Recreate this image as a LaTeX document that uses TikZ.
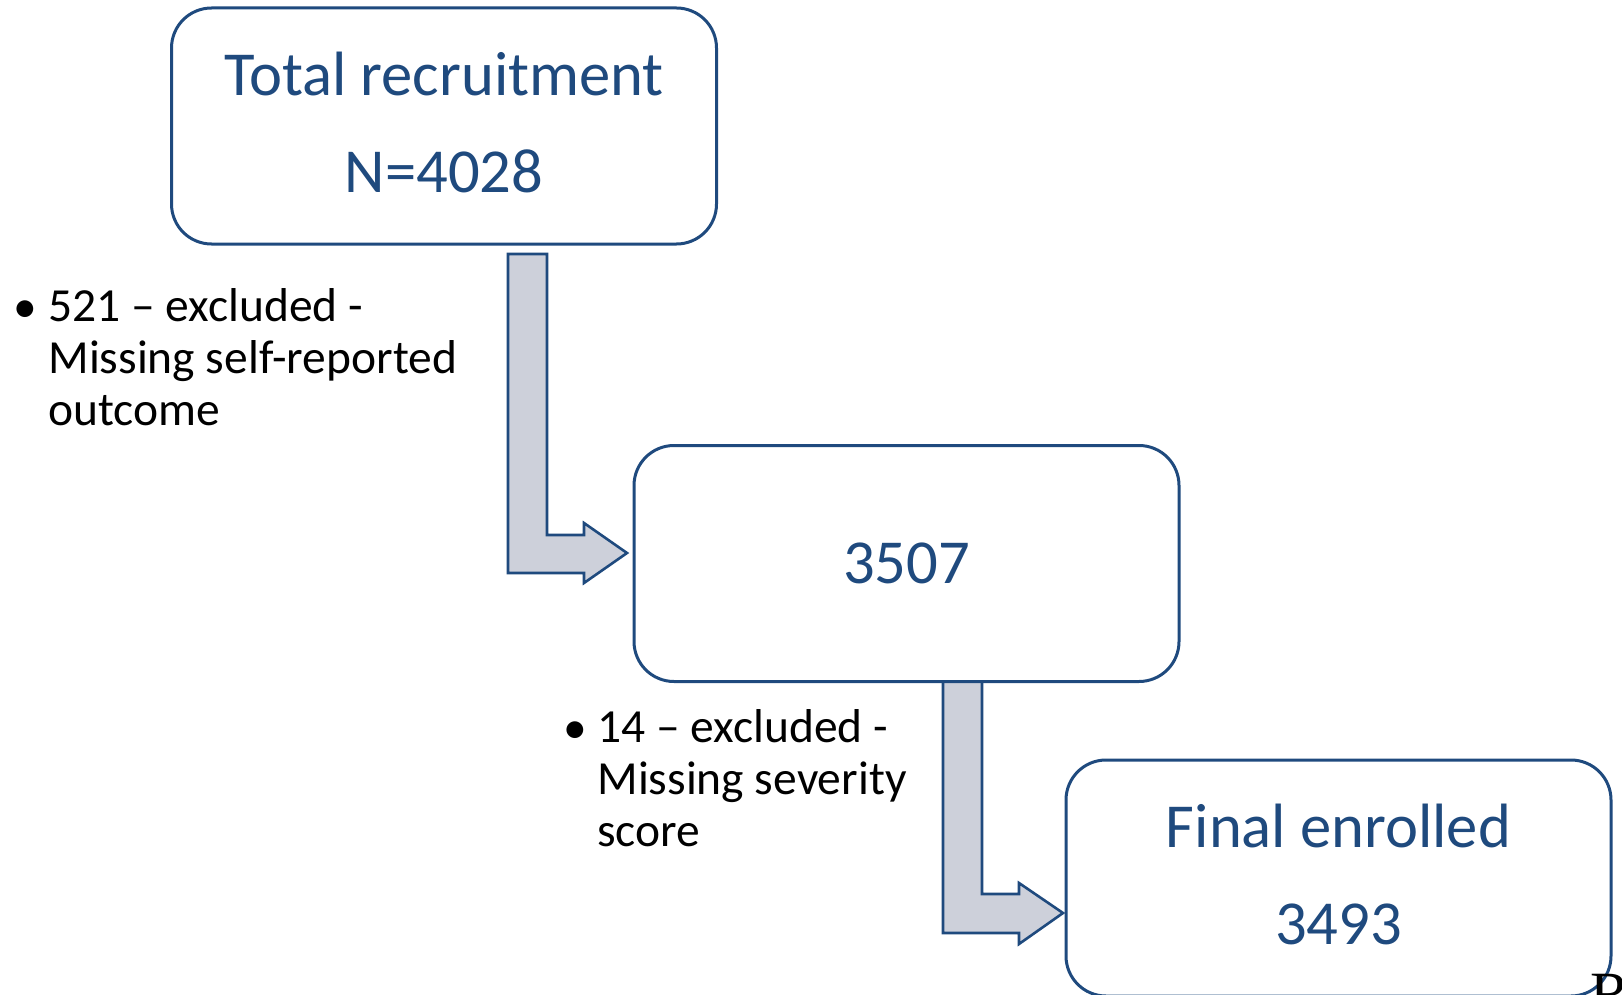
\documentclass[tikz,border=0pt]{standalone}
\usepackage{fontspec}
\setmainfont{Carlito}
\newfontfamily\seriffrag{Liberation Serif}
\usetikzlibrary{positioning}
\definecolor{boxblue}{HTML}{1F4A7E}
\definecolor{arrowgrey}{HTML}{CDD0DA}

\tikzset{
  stagebox/.style={draw=boxblue, line width=1.5pt, rounded corners=20pt, fill=white,
    minimum width=272.5pt, minimum height=118pt, align=center, text=boxblue,
    font=\fontsize{31.3}{48.5}\selectfont},
  twoline/.style={text depth=3.5pt},
  bentarrow/.style={draw=boxblue, line width=1.3pt, fill=arrowgrey, line join=miter},
  exclnote/.style={anchor=base west, align=left, inner sep=0pt,
    font=\fontsize{23.75}{25.8}\selectfont},
  bulletmark/.style={anchor=base west, inner sep=0pt,
    font=\fontsize{23.75}{25.8}\selectfont},
}

\begin{document}
\begin{tikzpicture}[x=0.5pt, y=-0.5pt]
\useasboundingbox (0,0) rectangle (1622,995);
\clip (0,0) rectangle (1622,995);

% block arrows
\draw[bentarrow] (508,254) -- (547,254) -- (547,535) -- (584,535) -- (584,523)
  -- (627,553) -- (584,583) -- (584,573) -- (508,573) -- cycle;
\draw[bentarrow] (943,680) -- (982,680) -- (982,894) -- (1019,894) -- (1019,883)
  -- (1063,913) -- (1019,944) -- (1019,933) -- (943,933) -- cycle;

% stages
\node[stagebox, twoline] (total) at (444,126) {Total recruitment\\N=4028};
\node[stagebox] (kept) at (906.5,563.5) {3507};
\node[stagebox, twoline] (final) at (1338.5,878) {Final enrolled\\3493};

% exclusions (base = last line)
\node[bulletmark] (bulletA) at (13,322) {\textbullet};
\node[exclnote] (noteA) at (48,425) {521 – excluded -\\Missing self-reported\\outcome};
\node[bulletmark] (bulletB) at (563,743) {\textbullet};
\node[exclnote] (noteB) at (597,846) {14 – excluded -\\Missing severity\\score};

\node[anchor=base west, inner sep=0pt, font=\seriffrag\fontsize{30}{30}\selectfont]
  (fragment) at (1590,1013) {RI};
\end{tikzpicture}
\end{document}
